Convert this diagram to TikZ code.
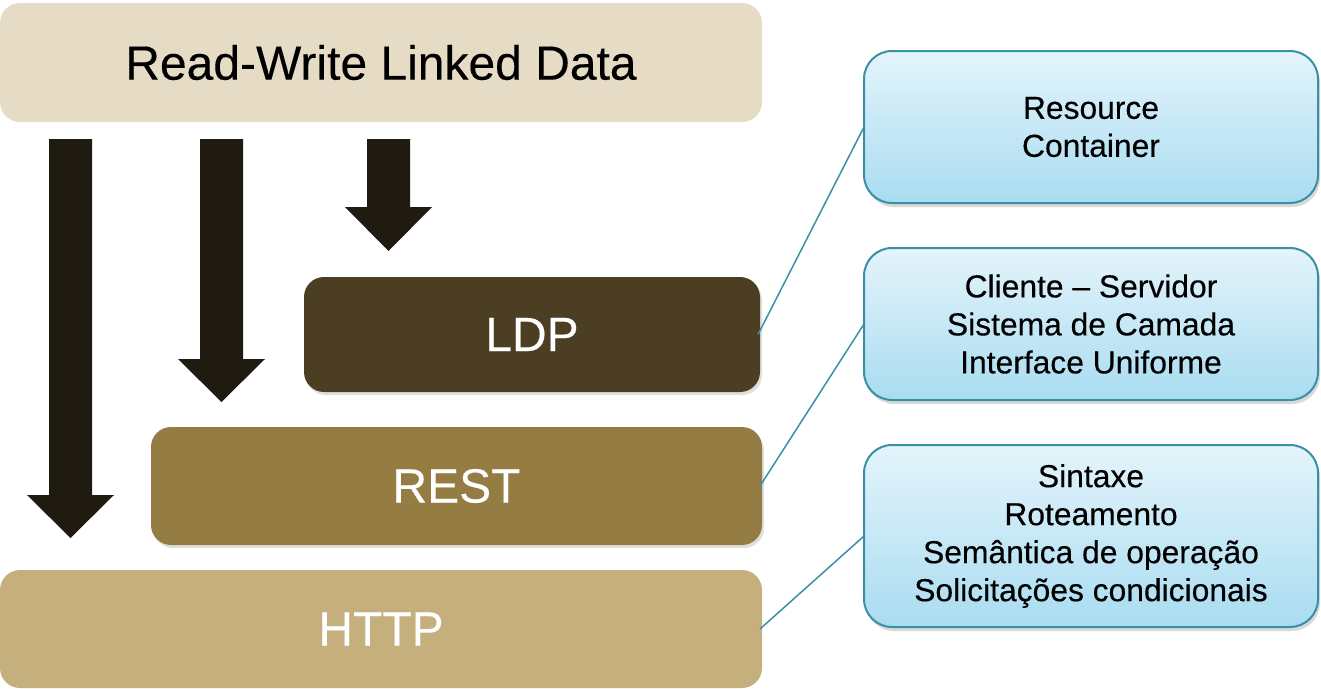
\documentclass[tikz,border=0pt]{standalone}
\usepackage{fontspec}
\setmainfont{Liberation Sans}[FakeBold=0.3]
\usetikzlibrary{shadows}
\definecolor{topbeige}{HTML}{E6DCC6}
\definecolor{ldpcol}{HTML}{4B3E22}
\definecolor{restcol}{HTML}{957C42}
\definecolor{httpcol}{HTML}{C5AF7D}
\definecolor{arrowcol}{HTML}{1F1B10}
\definecolor{tealline}{HTML}{3A90A4}
\definecolor{blueTop}{HTML}{E4F4FB}
\definecolor{blueBot}{HTML}{A9DCF1}
\tikzset{
  layer/.style={rounded corners=20pt, inner sep=0pt, outer sep=0pt,
    font=\fontsize{48}{56}\selectfont, text=white},
  layershadow/.style={drop shadow={shadow xshift=2pt, shadow yshift=-3pt, opacity=0.25}},
  infobox/.style={draw=tealline, line width=2pt, rounded corners=28pt,
    top color=blueTop, bottom color=blueBot, minimum width=454pt,
    align=center, inner sep=0pt, outer sep=0pt,
    font=\fontsize{31.8}{38}\selectfont,
    drop shadow={shadow xshift=2pt, shadow yshift=-4pt, opacity=0.3}},
  blockarrow/.style={fill=arrowcol},
  link/.style={draw=tealline, line width=1.5pt}
}
\begin{document}
\begin{tikzpicture}[x=1pt,y=-1pt]
\useasboundingbox (0,0) rectangle (1321,688);
% layers
\node[layer, fill=topbeige, text=black, minimum width=762pt, minimum height=119pt] (rw) at (381,62.5) {Read-Write Linked Data};
\node[layer, layershadow, fill=ldpcol, minimum width=456pt, minimum height=115pt] (ldp) at (532,334.5) {LDP};
\node[layer, layershadow, fill=restcol, minimum width=611pt, minimum height=118pt] (rest) at (456.5,486) {REST};
\node[layer, fill=httpcol, minimum width=762pt, minimum height=118pt] (http) at (381,629) {HTTP};
% block arrows
\fill[blockarrow] (49,139) -- (92,139) -- (92,495) -- (114,495) -- (70.5,538) -- (27,495) -- (49,495) -- cycle;
\fill[blockarrow] (200,139) -- (243,139) -- (243,359) -- (265,359) -- (221.5,402) -- (178,359) -- (200,359) -- cycle;
\fill[blockarrow] (367,139) -- (410,139) -- (410,207) -- (432,207) -- (388.5,251) -- (345,207) -- (367,207) -- cycle;
% info boxes
\node[infobox, minimum height=152pt] (b1) at (1091,127) {Resource\\Container};
\node[infobox, minimum height=152pt] (b2) at (1091,324) {Cliente -- Servidor\\Sistema de Camada\\Interface Uniforme};
\node[infobox, minimum height=182pt] (b3) at (1091,536) {Sintaxe\\Roteamento\\Semântica de operação\\Solicitações condicionais};
% connectors
\draw[link] ([xshift=-2pt]ldp.east) -- (b1.west);
\draw[link] ([xshift=-2pt]rest.east) -- (b2.west);
\draw[link] ([xshift=-2pt]http.east) -- (b3.west);
\end{tikzpicture}
\end{document}
